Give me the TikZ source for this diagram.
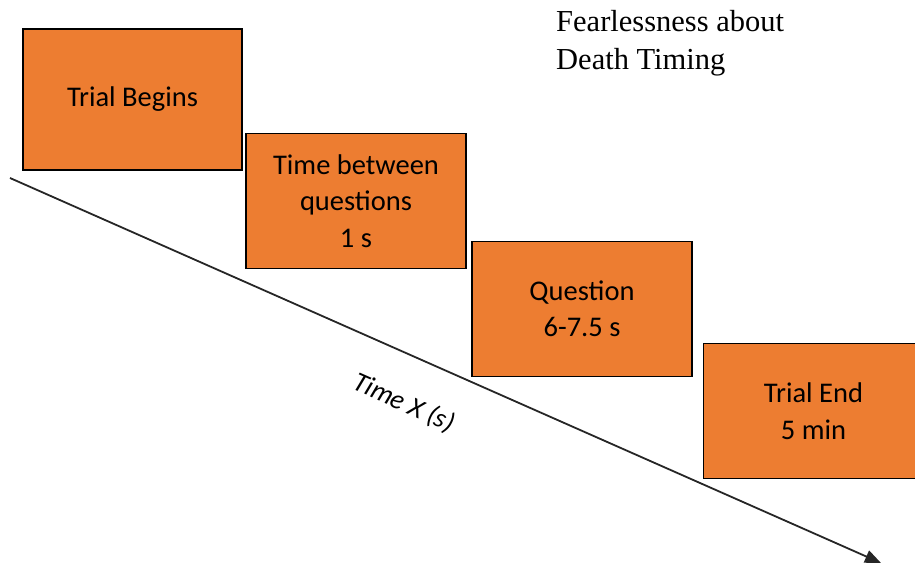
\documentclass[tikz,border=0pt]{standalone}
\usepackage{fontspec}
\setmainfont{Liberation Serif}
\newfontfamily\calibri{Carlito}
\usetikzlibrary{arrows.meta}
\definecolor{boxorange}{HTML}{ED7D31}
\tikzset{
  stepbox/.style={draw=black, line width=1.4pt, fill=boxorange, rectangle,
    minimum width=219pt, minimum height=135pt, inner sep=0pt,
    align=center, font=\calibri\fontsize{28.5}{36.5}\selectfont},
  timeline/.style={line width=1.8pt, draw=black!85, -{Triangle[length=16pt,width=13pt]}}
}
\begin{document}
\begin{tikzpicture}[x=1pt,y=-1pt]
\useasboundingbox (0,0) rectangle (915,569);
\clip (0,0) rectangle (915,569);
\coordinate (tstart) at (10,178);
\coordinate (tend) at (881,563);
\draw[timeline] (tstart) -- (tend);
\node[stepbox, minimum height=141pt] (b1) at (132.5,99.5) {\raisebox{-3pt}{Trial Begins}};
\node[stepbox, minimum width=220pt] (b2) at (356,201) {Time between\\questions\\1 s};
\node[stepbox, minimum width=220pt] (b3) at (582,309) {Question\\6-7.5 s};
\node[stepbox, minimum width=220pt] (b4) at (813.5,411) {Trial End\\5 min};
\node[rotate=-23.9, font=\calibri\itshape\fontsize{27.5}{30}\selectfont] (tlabel) at (404,403) {Time X (s)};
\node[anchor=north west, align=left, inner sep=0pt, font=\fontsize{30.5}{38}\selectfont] (title) at (556,10) {Fearlessness about\\Death Timing};
\end{tikzpicture}
\end{document}
